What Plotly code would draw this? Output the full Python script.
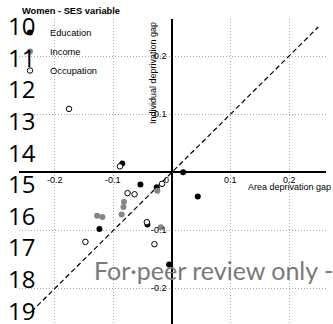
import plotly.graph_objects as go

# Gaps by SES indicator (women): area gap (x) vs individual gap (y)
edu_x = [-0.085, 0.019, -0.054, -0.026, 0.044, -0.124, -0.042, -0.005]
edu_y = [0.015, 0.000, -0.021, -0.026, -0.042, -0.098, -0.090, -0.159]
inc_x = [-0.025, -0.082, -0.083, -0.086, -0.128, -0.119, -0.019]
inc_y = [-0.032, -0.051, -0.060, -0.073, -0.075, -0.077, -0.095]
occ_x = [-0.089, -0.017, -0.076, -0.064, -0.148, -0.043, -0.030, -0.176]
occ_y = [0.010, -0.020, -0.036, -0.038, -0.120, -0.086, -0.124, 0.109]

# Line of equality
ref_line = [-0.24, 0.25]

tick_vals = [-0.2, -0.1, 0.1, 0.2]
x_tick_labels = ["-0.2", "-0.1", "0", "0.1", "0.2"]
x_tick_vals = [-0.2, -0.1, 0.0, 0.1, 0.2]
y_tick_labels = ["0.2", "0.1", "-0.1", "-0.2"]
y_tick_vals = [0.2, 0.1, -0.1, -0.2]

line_numbers = ["10", "11", "12", "13", "14", "15", "16", "17", "18", "19"]

W, H = 333, 324
ML, MR, MT, MB = 19, 7, 19, 0
PW, PH = W - ML - MR, H - MT - MB


def px(x):
    return (x - ML) / PW


def py(y):
    return (H - MB - y) / PH


SANS = "Liberation Sans, Arial, sans-serif"
HUMAN = "Open Sans, sans-serif"
MARK = "Lato, sans-serif"
GREY = "#858585"

fig = go.Figure()

fig.add_trace(go.Scatter(
    x=ref_line, y=ref_line, mode="lines", showlegend=False,
    line=dict(color="black", width=1.2, dash="5px,3px"), hoverinfo="skip"))

fig.add_trace(go.Scatter(
    x=edu_x, y=edu_y, mode="markers", name="Education",
    marker=dict(color="black", size=6, line=dict(width=0))))
fig.add_trace(go.Scatter(
    x=inc_x, y=inc_y, mode="markers", name="Income",
    marker=dict(color=GREY, size=6, line=dict(width=0))))
fig.add_trace(go.Scatter(
    x=occ_x, y=occ_y, mode="markers", name="Occupation",
    marker=dict(color="white", size=5.5, line=dict(color="black", width=1))))

annotations = []

# Tick labels drawn next to the axes crossing at the origin
for v, t in zip(x_tick_vals, x_tick_labels):
    annotations.append(dict(
        x=v, y=0, xref="x", yref="y", text=t, showarrow=False,
        xanchor="center", yanchor="middle", yshift=-8,
        xshift=-6 if v == 0 else 0,
        font=dict(family=SANS, size=9, color="black")))
for v, t in zip(y_tick_vals, y_tick_labels):
    annotations.append(dict(
        x=0, y=v, xref="x", yref="y", text=t, showarrow=False,
        xanchor="right", yanchor="middle", xshift=-3,
        font=dict(family=SANS, size=9, color="black")))

# Axis titles
annotations.append(dict(
    x=px(333), y=py(187), xref="paper", yref="paper",
    text="Area deprivation gap", showarrow=False,
    xanchor="right", yanchor="middle",
    font=dict(family=SANS, size=9, color="black")))
annotations.append(dict(
    x=px(153), y=py(20), xref="paper", yref="paper",
    text="Individual deprivation gap", showarrow=False, textangle=-90,
    xanchor="center", yanchor="top",
    font=dict(family=SANS, size=9, color="black")))

# Panel title
annotations.append(dict(
    x=px(20), y=py(11), xref="paper", yref="paper",
    text="<b>Women - SES variable</b>", showarrow=False,
    xanchor="left", yanchor="middle",
    font=dict(family=SANS, size=9.3, color="black")))

# Manuscript line numbers down the left margin
for i, n in enumerate(line_numbers):
    annotations.append(dict(
        x=px(6), y=py(25.6 + 31.6 * i), xref="paper", yref="paper",
        text=n, showarrow=False, xanchor="left", yanchor="middle",
        font=dict(family=HUMAN, size=24, color="black")))

# Review watermark
annotations.append(dict(
    x=px(92), y=py(270), xref="paper", yref="paper",
    text="For\u00b7peer review only -", showarrow=False,
    xanchor="left", yanchor="middle",
    font=dict(family=MARK, size=25, color="#7a7a7a")))

axis_common = dict(
    tickvals=tick_vals, showticklabels=False, ticks="",
    showgrid=True, gridcolor="#a8a8a8", gridwidth=1, griddash="1px,2px",
    zeroline=True, zerolinecolor="black", zerolinewidth=1.6,
    showline=False, fixedrange=True)

fig.update_layout(
    width=W, height=H,
    margin=dict(l=ML, r=MR, t=MT, b=MB, pad=0),
    paper_bgcolor="white", plot_bgcolor="white",
    xaxis=dict(range=[-0.2615, 0.2632], **axis_common),
    yaxis=dict(range=[-0.2614, 0.2638], **axis_common),
    legend=dict(
        x=px(10), y=py(18), xanchor="left", yanchor="top",
        bgcolor="rgba(0,0,0,0)", borderwidth=0,
        font=dict(family=SANS, size=9.3, color="black"),
        itemsizing="trace", tracegroupgap=0),
    annotations=annotations,
    showlegend=True,
)

fig.write_html("out.html")
